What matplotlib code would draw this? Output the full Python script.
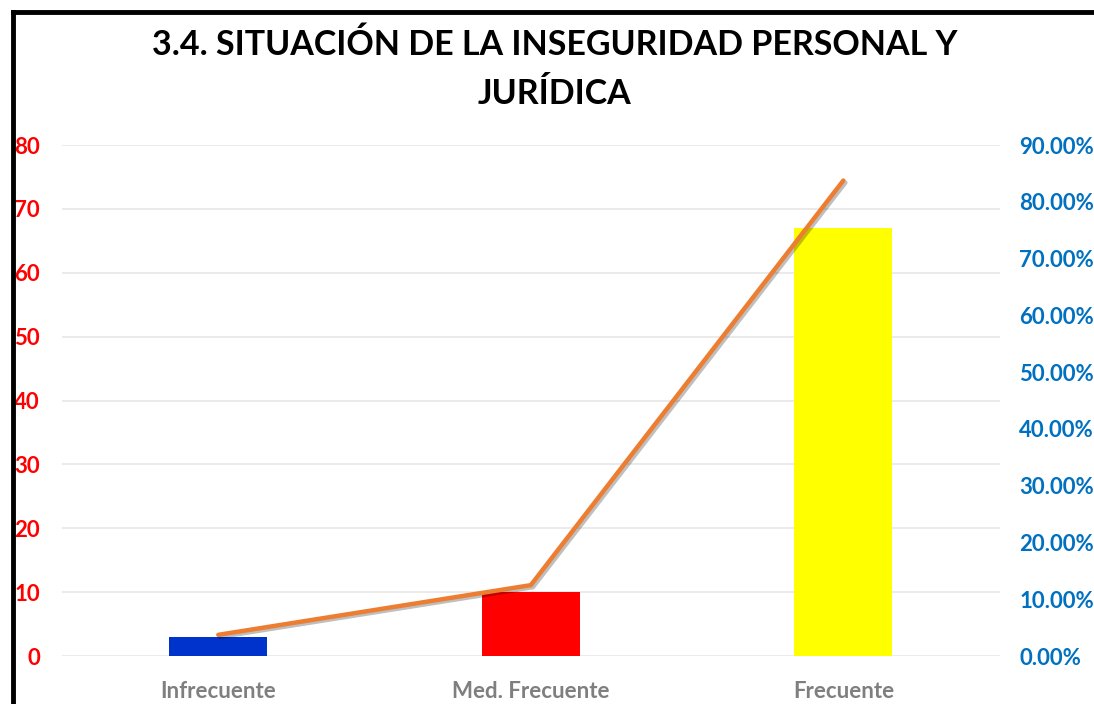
import matplotlib.pyplot as plt
import matplotlib.patheffects as pe
from matplotlib.lines import Line2D
from matplotlib.ticker import PercentFormatter

categorias = ['Infrecuente', 'Med. Frecuente', 'Frecuente']
frecuencias = [3, 10, 67]
porcentajes = [0.0375, 0.125, 0.8375]
colores = ['#0033CC', '#FF0000', '#FFFF00']

plt.rcParams['font.family'] = ['Lato', 'DejaVu Sans']

fig = plt.figure(figsize=(10.94, 7.04), dpi=100)
ax = fig.add_axes([0.0567, 0.068, 0.857, 0.726])
x = range(len(categorias))

ax.bar(x, frecuencias, width=0.314, color=colores, zorder=2)
ax.set_xlim(-0.5, 2.5)
ax.set_ylim(0, 80)
ax.set_yticks(range(0, 81, 10))
ax.grid(axis='y', color='#E6E6E6', linewidth=1.2, zorder=0)
ax.set_axisbelow(True)
for s in ax.spines.values():
    s.set_visible(False)
ax.tick_params(length=0)
ax.tick_params(axis='y', labelcolor='#FF0000', labelsize=16, pad=16)
for t in ax.get_yticklabels():
    t.set_fontweight('bold')
ax.set_xticks(list(x))
ax.set_xticklabels(categorias, fontweight='bold', color='#7F7F7F', fontsize=16)
ax.tick_params(axis='x', pad=18)

ax2 = ax.twinx()
ax2.plot(list(x), porcentajes, color='#ED7D31', linewidth=3.2, solid_capstyle='round', zorder=3,
         path_effects=[pe.SimpleLineShadow(offset=(1.5, -1.5), alpha=0.25), pe.Normal()])
ax2.set_ylim(0, 0.9)
ax2.set_yticks([i / 10 for i in range(10)])
ax2.yaxis.set_major_formatter(PercentFormatter(1.0, decimals=2))
for s in ax2.spines.values():
    s.set_visible(False)
ax2.tick_params(length=0, labelcolor='#0070C0', labelsize=16, pad=14)
for t in ax2.get_yticklabels():
    t.set_fontweight('bold')

fig.text(0.507, 0.936, '3.4. SITUACIÓN DE LA INSEGURIDAD PERSONAL Y', ha='center', va='center',
         fontsize=24.5, fontweight='bold', color='#000000')
fig.text(0.507, 0.866, 'JURÍDICA', ha='center', va='center',
         fontsize=24.5, fontweight='bold', color='#000000')

# marco negro del gráfico (solo visible arriba e izquierda)
fig.add_artist(Line2D([0.0115, 0.0115], [0, 0.983], color='black', linewidth=3.5, transform=fig.transFigure))
fig.add_artist(Line2D([0.0115, 1.0], [0.983, 0.983], color='black', linewidth=3.5, transform=fig.transFigure))

fig.savefig('out.png', dpi=100)
